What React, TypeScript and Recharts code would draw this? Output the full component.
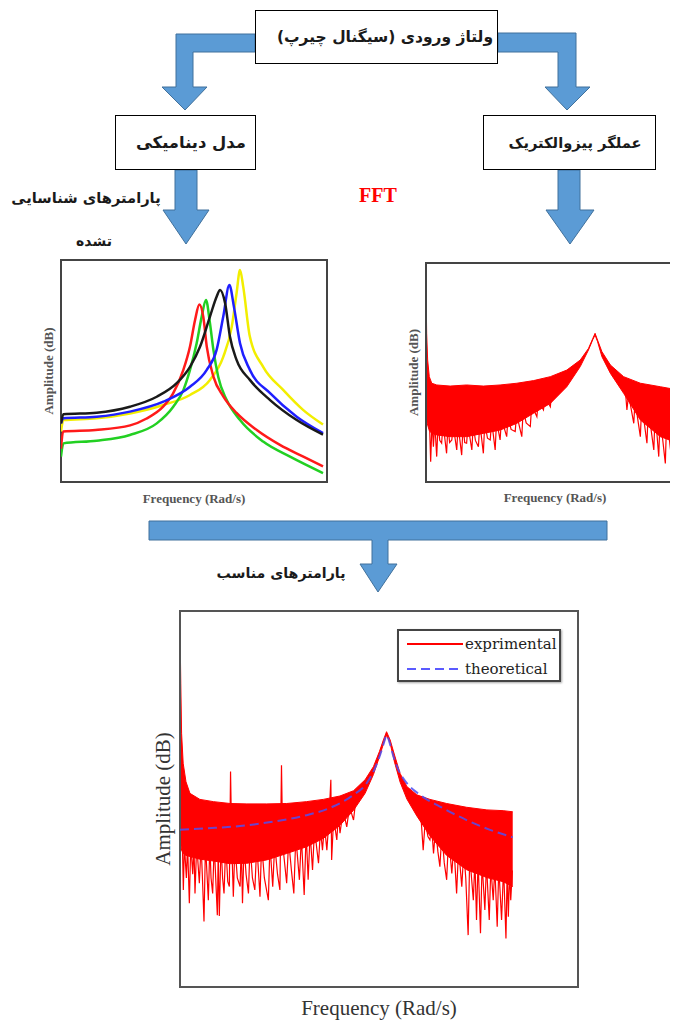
import React from 'react';
import { ComposedChart, Line, Area, XAxis, YAxis, ReferenceArea, Legend } from 'recharts';

// ---------- Flowchart texts ----------
const inputText = 'ولتاژ ورودی (سیگنال چیرپ)';
const modelText = 'مدل دینامیکی';
const actuatorText = 'عملگر پیزوالکتریک';
const identifiedText1 = 'پارامترهای شناسایی';
const identifiedText2 = 'تشده';
const suitableText = 'پارامترهای مناسب';
const fftText = 'FFT';
const freqLabel = 'Frequency (Rad/s)';
const ampLabel = 'Amplitude (dB)';

// ---------- Model responses (left small chart) ----------
const redModelX = [0, 0.8, 13, 26, 32, 38.3, 42.1, 46, 48.5, 50.4, 52, 53.5, 54.8, 57.3, 61, 66, 73.6, 82.3, 91.1, 98.5];
const redModelY = [15, 22.7, 23.4, 25.5, 28.5, 33.8, 39.8, 50.5, 61, 73, 80, 74.4, 61, 47.5, 38.6, 31.1, 23.4, 16.7, 11.4, 7.0];
const greenModelX = [0, 0.9, 13.4, 25.9, 36, 42.2, 46, 48.5, 51, 52.9, 54.5, 56, 57.3, 59.1, 62.3, 67.3, 76, 86.1, 98.5];
const greenModelY = [11.4, 17.4, 18.6, 21.2, 26.4, 33.9, 41.4, 50.5, 62.5, 74.5, 82, 71.5, 59.5, 47.4, 36.9, 27.9, 18.2, 11.4, 4.0];
const blackModelX = [0, 0.9, 13.4, 25.9, 36, 43.5, 48.5, 52.3, 56, 58.5, 59.8, 61.7, 63.5, 66, 71, 78.6, 88.6, 98.5];
const blackModelY = [26.4, 30.5, 31.2, 33.9, 38.4, 44.5, 51.9, 61, 74.5, 83.5, 86.5, 80.5, 65.5, 55, 46, 36.9, 27.9, 21.3];
const blueModelX = [0, 0.9, 13.4, 25.9, 38.5, 48.5, 54.8, 58.5, 61, 63.3, 65, 67.3, 71, 78.6, 88.6, 98.5];
const blueModelY = [26.4, 28.7, 29.4, 31.7, 36.2, 42.9, 50.5, 59.5, 74.5, 88.7, 79, 62.5, 50.5, 40, 29.4, 22.0];
const yellowModelX = [0, 0.9, 13.4, 25.9, 38.5, 48.5, 56, 61, 64.2, 66, 67.3, 68.5, 71, 76, 83.6, 91.1, 98.5];
const yellowModelY = [22.7, 27.9, 28.7, 30.9, 34.7, 39.2, 46, 56.4, 70, 85, 95.5, 88, 65.5, 51.9, 41.4, 32.4, 25.9];

// ---------- FFT of actuator (right small chart) ----------
const fftBandX = [0, 0.24, 0.6, 1.2, 2.1, 3.9, 8.8, 14.8, 20.9, 27.0, 33.1, 39.2, 45.3, 51.3, 56.2, 59.2, 60.8, 61.6, 62.5, 64.1, 67.2, 72.0, 78.1, 85.4, 92.0, 94];
const fftBandHi = [90.7, 67.9, 55.7, 48.1, 45.1, 44.3, 43.8, 44.3, 43.8, 44.3, 45.1, 46.3, 48.1, 51.1, 55.7, 61.0, 65.6, 67.9, 64.8, 59.5, 53.4, 48.1, 45.1, 43.5, 42.0, 41.5];
const fftBandLo = [30, 28, 26, 23.5, 22.2, 21.5, 20.7, 20.7, 22.2, 23.7, 26.8, 31.4, 35.9, 43.5, 52.7, 60.3, 65.1, 67.1, 64.1, 57.2, 49.6, 40.5, 28.3, 20.7, 17.7, 17];
const fftLeftX = [1.2, 1.7, 2.2, 2.7, 3.2, 3.9, 4.4, 5.0, 5.7, 6.2, 7.5, 8.0, 8.6, 9.4, 9.9, 11.2, 11.7, 13.0, 13.5, 14.1, 14.8, 15.3, 16.7, 17.2, 18.0, 19.1, 19.6, 20.9, 21.4, 22.4, 23.4, 23.9, 25.2, 25.7, 27.0, 27.5, 29.4, 29.9, 31.0, 32.5, 33.0, 34.9, 35.4, 36.5, 38.0, 38.5, 40.4, 40.9, 42.8, 43.3, 45.3, 45.8];
const fftLeftY = [30, 9.3, 28, 16.1, 27, 11.6, 27, 19, 17.7, 27, 13.1, 26, 18, 19.2, 26, 14.6, 26, 12.3, 26, 18, 17.7, 26, 14.6, 26, 19, 16.1, 27, 13.1, 27, 20, 19.2, 28, 14.6, 28, 19.2, 29, 20.7, 30, 24, 23.0, 31, 20.7, 33, 27, 25.3, 35, 29.8, 37, 32.9, 39, 34.4, 41];
const fftRightX = [72.5, 73.2, 73.8, 75.7, 76.2, 77.0, 78.1, 78.6, 80.5, 81.0, 82.0, 83.0, 83.5, 84.8, 85.3, 87.2, 87.7, 89.1, 89.6, 90.9, 91.4, 92.5, 93.5];
const fftRightY = [44, 32.9, 40, 26.8, 38, 30, 20.7, 36, 17.7, 34, 24, 14.6, 32, 11.6, 30, 8.5, 30, 14.6, 29, 11.6, 28, 15, 27];

// ---------- Comparison (bottom chart) ----------
const expBandX = [0, 0.2, 0.4, 0.8, 1.5, 2.5, 5, 8.4, 12.6, 16.8, 21.8, 26.8, 31.8, 36, 40.2, 43.6, 46.5, 48.6, 50.1, 51.1, 51.9, 52.8, 53.9, 55.3, 57, 59.5, 62.8, 67, 72, 77.1, 81.2, 83.6];
const expBandHi = [96.3, 80.8, 67.5, 59.5, 54.6, 51.5, 49.9, 49.3, 48.8, 48.7, 48.7, 48.8, 49.3, 49.9, 50.8, 52.2, 55.1, 58.6, 62.6, 65.7, 67.9, 65.7, 61.7, 56.8, 53.3, 51.1, 49.9, 48.8, 47.8, 47.1, 46.9, 46.6];
const expBandLo = [40.9, 38, 36.4, 35.5, 35, 34.7, 34, 33.5, 32.8, 32.9, 33.8, 35.5, 37.3, 39.5, 43, 47, 51.5, 56.5, 61.2, 64.6, 67.0, 64.8, 59.8, 54.5, 50, 45.5, 40.2, 35, 31.2, 29.1, 28, 26.7];
const expLeftX = [0.6, 0.84, 1.1, 1.6, 1.9, 2.35, 2.7, 3.2, 3.5, 3.77, 4.2, 4.86, 5.3, 5.6, 6.03, 6.4, 7.12, 7.5, 7.8, 8.21, 8.6, 9.38, 9.6, 9.88, 10.3, 10.7, 11.06, 11.5, 12.0, 12.4, 12.7, 13.0, 13.4, 13.8, 14.4, 15.1, 15.4, 15.7, 16.1, 16.6, 17.2, 17.6, 18.2, 18.8, 19.3, 20.1, 20.5, 21.2, 22.2, 22.6, 23.3, 23.8, 24.5, 25.1, 25.5, 25.8, 26.8, 27.3, 28.0, 28.6, 29.1, 30.0, 30.5, 31.2, 31.7, 32.2, 32.7, 33.3, 33.8, 34.8, 35.3, 35.8, 36.3, 36.9, 37.4, 37.9, 38.1, 38.6, 39.4, 39.8, 40.2, 41.0, 41.9, 42.6, 43.6, 44.2];
const expLeftY = [38, 25.8, 38, 29, 38, 22.3, 38, 30, 38, 24.9, 38, 27.6, 38, 30, 17.4, 38, 23.1, 38, 29, 24.9, 38, 19.1, 36, 18.9, 38, 29, 24.9, 38, 28, 26.7, 57.3, 38, 24.0, 38, 29, 26.7, 38, 22.3, 38, 30, 24.9, 38, 29, 25.8, 38, 24.0, 38, 29, 23.1, 38, 26.7, 38, 30, 25.8, 59.0, 38, 27.6, 39, 31, 24.9, 40, 28.5, 40, 24.5, 41, 28.5, 41, 31.1, 42, 32.9, 42, 36.4, 43, 36.4, 44, 55.1, 33.8, 45, 39.1, 46, 40.9, 47, 42.6, 48, 44.4, 50];
const expRightX = [60.5, 61.1, 61.6, 62.3, 62.8, 63.2, 63.7, 64.2, 64.8, 65.3, 65.8, 66.4, 67.0, 67.5, 68.3, 68.8, 69.5, 70.0, 70.8, 71.3, 71.8, 72.4, 72.8, 73.7, 74.1, 74.5, 74.9, 75.5, 75.9, 76.6, 77.0, 77.7, 78.1, 78.7, 79.1, 79.7, 80.1, 80.8, 81.3, 81.9, 82.2, 82.5, 82.8, 83.1, 83.5];
const expRightY = [46, 36.4, 44, 40, 39.1, 43, 35.5, 42, 36, 32.0, 41, 33, 28.5, 40, 30.2, 38, 24.9, 37, 26.7, 36, 29, 13.8, 35, 23.1, 34, 17.8, 34, 14.3, 33, 20.5, 33, 17.8, 32, 23.1, 32, 16.0, 32, 17.8, 32, 12.9, 31, 18.7, 31, 23.1, 31];
const theoX = [0, 6.7, 15.1, 23.5, 31.8, 38.5, 43.6, 46.9, 49, 50.4, 51.3, 51.9, 52.6, 53.4, 54.9, 57, 60.3, 65.3, 72, 77.9, 83.6];
const theoY = [41.8, 42.2, 42.8, 44.0, 45.7, 48.0, 51.1, 54.2, 58.2, 62.1, 65.2, 67.0, 65.2, 62.1, 57.7, 54.2, 51.1, 48.0, 44.4, 41.8, 39.8];
const legendNames = ['exprimental', 'theoretical'];

const RED = '#ff0000';
const BLUE_ARROW = '#5b9bd5';
const BLUE_EDGE = '#41719c';

const pts = (xs: number[], ys: number[]) => xs.map((x, i) => ({ x, y: ys[i] }));
const band = (xs: number[], lo: number[], hi: number[]) => xs.map((x, i) => ({ x, range: [lo[i], hi[i]] }));

const modelSeries = [
  { name: 'yellow', color: '#f2ee00', data: pts(yellowModelX, yellowModelY) },
  { name: 'green', color: '#22d022', data: pts(greenModelX, greenModelY) },
  { name: 'red', color: '#ff1a1a', data: pts(redModelX, redModelY) },
  { name: 'blue', color: '#1f1fff', data: pts(blueModelX, blueModelY) },
  { name: 'black', color: '#1a1a1a', data: pts(blackModelX, blackModelY) },
];

const smallLabelProps = { fontFamily: 'Liberation Serif', fontSize: 13, fontWeight: 'bold', fill: '#555' };
const bigLabelProps = { fontFamily: 'Liberation Serif', fontSize: 21, fill: '#333' };

const persian: React.CSSProperties = {
  position: 'absolute',
  fontFamily: '"DejaVu Sans", sans-serif',
  fontWeight: 'bold',
  fontSize: 15,
  color: '#1a1a1a',
  whiteSpace: 'nowrap',
  transform: 'translate(-50%, -50%)',
  lineHeight: 1,
};

const boxStyle = (l: number, t: number, r: number, b: number): React.CSSProperties => ({
  position: 'absolute',
  left: l,
  top: t,
  width: r - l,
  height: b - t,
  border: '1.5px solid #000',
  boxSizing: 'border-box',
  background: '#fff',
});

const LegendBox = () => (
  <div
    style={{
      width: 164,
      height: 53,
      border: '2px solid #444',
      boxSizing: 'border-box',
      background: '#fff',
      boxShadow: '1px 1px 2px rgba(0,0,0,0.35)',
      position: 'relative',
      fontFamily: '"DejaVu Serif", serif',
      fontSize: 15,
      color: '#222',
    }}
  >
    {legendNames.map((n, i) => (
      <div key={n} style={{ position: 'absolute', left: 8, top: 2 + i * 25, height: 22, display: 'flex', alignItems: 'center' }}>
        <svg width={56} height={6} style={{ display: 'block' }}>
          {i === 0 ? (
            <line x1={0} x2={56} y1={3} y2={3} stroke={RED} strokeWidth={2} />
          ) : (
            <line x1={0} x2={56} y1={3} y2={3} stroke="#5a5aff" strokeWidth={2} strokeDasharray="9 5" />
          )}
        </svg>
        <span style={{ marginLeft: 2, lineHeight: 1 }}>{n}</span>
      </div>
    ))}
  </div>
);

export default function App() {
  return (
    <div style={{ position: 'relative', width: 678, height: 1021, overflow: 'hidden', margin: '-8px 0 0 -8px', background: '#fff' }}>
      {/* arrows */}
      <svg width={678} height={1021} style={{ position: 'absolute', left: 0, top: 0 }}>
        <g fill={BLUE_ARROW} stroke={BLUE_EDGE} strokeWidth={1}>
          <polygon points="255,34 176,34 176,87 162,87 185,110 207,87 193,87 193,52 255,52" />
          <polygon points="498,33 576,33 576,87 590,87 567,110 545,87 558,87 558,52 498,52" />
          <polygon points="175,170 197,170 197,210 209,210 186,244 163,210 175,210" />
          <polygon points="558,170 580,170 580,210 594,210 570,244 546,210 558,210" />
          <polygon points="149,521 607,521 607,540 388,540 388,564 397,564 378,592 360,564 372,564 372,540 149,540" />
        </g>
      </svg>

      {/* boxes */}
      <div style={boxStyle(255, 10, 498, 64)} />
      <div style={boxStyle(115, 115, 256, 170)} />
      <div style={boxStyle(483, 115, 656, 170)} />

      <div dir="rtl" style={{ ...persian, fontSize: 15.5, left: 385, top: 38 }}>{inputText}</div>
      <div dir="rtl" style={{ ...persian, fontSize: 16.4, left: 191, top: 143 }}>{modelText}</div>
      <div dir="rtl" style={{ ...persian, fontSize: 14.7, left: 575, top: 143 }}>{actuatorText}</div>
      <div dir="rtl" style={{ ...persian, fontSize: 14.7, left: 86, top: 198 }}>{identifiedText1}</div>
      <div dir="rtl" style={{ ...persian, fontSize: 14, left: 94, top: 241 }}>{identifiedText2}</div>
      <div dir="rtl" style={{ ...persian, fontSize: 14.2, left: 281, top: 573 }}>{suitableText}</div>
      <div
        style={{
          position: 'absolute',
          left: 378,
          top: 195,
          transform: 'translate(-50%, -50%)',
          fontFamily: '"Liberation Serif", serif',
          fontWeight: 'bold',
          fontSize: 20,
          color: RED,
          lineHeight: 1,
        }}
      >
        {fftText}
      </div>

      {/* left small chart: model responses */}
      <div style={{ position: 'absolute', left: 35, top: 250 }}>
        <ComposedChart width={302} height={264} margin={{ top: 10, right: 10, bottom: 0, left: 0 }}>
          <XAxis
            dataKey="x"
            type="number"
            domain={[0, 100]}
            allowDataOverflow
            tick={false}
            tickLine={false}
            axisLine={false}
            height={32}
            label={{ value: freqLabel, position: 'center', ...smallLabelProps }}
          />
          <YAxis
            type="number"
            domain={[0, 100]}
            allowDataOverflow
            tick={false}
            tickLine={false}
            axisLine={false}
            width={26}
            label={{ value: ampLabel, position: 'center', angle: -90, ...smallLabelProps }}
          />
          {modelSeries.map((s) => (
            <Line
              key={s.name}
              data={s.data}
              dataKey="y"
              type="monotone"
              stroke={s.color}
              strokeWidth={2.5}
              dot={false}
              activeDot={false}
              isAnimationActive={false}
            />
          ))}
          <ReferenceArea x1={0} x2={100} y1={0} y2={100} fill="none" stroke="#444" strokeWidth={2} ifOverflow="visible" />
        </ComposedChart>
      </div>

      {/* right small chart: FFT of actuator */}
      <div style={{ position: 'absolute', left: 400, top: 250 }}>
        <ComposedChart width={284} height={262} margin={{ top: 13, right: 0, bottom: 0, left: 0 }}>
          <XAxis
            dataKey="x"
            type="number"
            domain={[0, 94]}
            allowDataOverflow
            tick={false}
            tickLine={false}
            axisLine={false}
            height={30}
            label={{ value: freqLabel, position: 'center', ...smallLabelProps }}
          />
          <YAxis
            type="number"
            domain={[0, 100]}
            allowDataOverflow
            tick={false}
            tickLine={false}
            axisLine={false}
            width={26}
            label={{ value: ampLabel, position: 'center', angle: -90, ...smallLabelProps }}
          />
          <Area
            data={band(fftBandX, fftBandLo, fftBandHi)}
            dataKey="range"
            type="linear"
            stroke={RED}
            strokeWidth={1}
            fill={RED}
            fillOpacity={1}
            dot={false}
            activeDot={false}
            isAnimationActive={false}
          />
          <Line data={pts(fftLeftX, fftLeftY)} dataKey="y" type="linear" stroke={RED} strokeWidth={1.2} dot={false} activeDot={false} isAnimationActive={false} />
          <Line data={pts(fftRightX, fftRightY)} dataKey="y" type="linear" stroke={RED} strokeWidth={1.2} dot={false} activeDot={false} isAnimationActive={false} />
          <ReferenceArea x1={0} x2={94} y1={0} y2={100} fill="none" stroke="#444" strokeWidth={2} ifOverflow="visible" />
        </ComposedChart>
      </div>

      {/* bottom chart: experimental vs theoretical */}
      <div style={{ position: 'absolute', left: 146, top: 600 }}>
        <ComposedChart width={434} height={429} margin={{ top: 11, right: 2, bottom: 0, left: 0 }}>
          <XAxis
            dataKey="x"
            type="number"
            domain={[0, 100]}
            allowDataOverflow
            tick={false}
            tickLine={false}
            axisLine={false}
            height={42}
            label={{ value: freqLabel, position: 'center', ...bigLabelProps }}
          />
          <YAxis
            type="number"
            domain={[0, 100]}
            allowDataOverflow
            tick={false}
            tickLine={false}
            axisLine={false}
            width={34}
            label={{ value: ampLabel, position: 'center', angle: -90, ...bigLabelProps }}
          />
          <Area
            data={band(expBandX, expBandLo, expBandHi)}
            dataKey="range"
            type="linear"
            stroke={RED}
            strokeWidth={1}
            fill={RED}
            fillOpacity={1}
            dot={false}
            activeDot={false}
            isAnimationActive={false}
          />
          <Line data={pts(expLeftX, expLeftY)} dataKey="y" type="linear" stroke={RED} strokeWidth={1.2} dot={false} activeDot={false} isAnimationActive={false} />
          <Line data={pts(expRightX, expRightY)} dataKey="y" type="linear" stroke={RED} strokeWidth={1.2} dot={false} activeDot={false} isAnimationActive={false} />
          <Line
            data={pts(theoX, theoY)}
            dataKey="y"
            type="monotone"
            stroke="#5050f0"
            strokeOpacity={0.85}
            strokeWidth={2}
            strokeDasharray="9 5"
            dot={false}
            activeDot={false}
            isAnimationActive={false}
          />
          <ReferenceArea x1={0} x2={100} y1={0} y2={100} fill="none" stroke="#555" strokeWidth={2} ifOverflow="visible" />
          <Legend
            layout="horizontal"
            verticalAlign="middle"
            align="center"
            content={() => <LegendBox />}
            wrapperStyle={{ left: 251, top: 29, width: 164, height: 53 }}
          />
        </ComposedChart>
      </div>
    </div>
  );
}
